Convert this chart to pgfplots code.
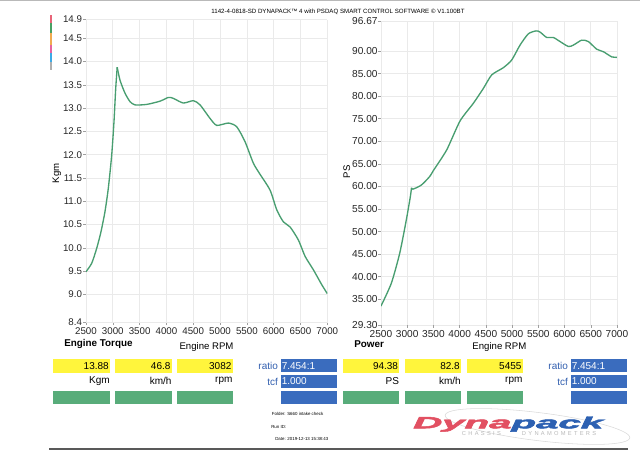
\documentclass[border=0pt]{standalone}
\usepackage{fontspec}
\setmainfont{Liberation Sans}
\usepackage{pgfplots}
\pgfplotsset{compat=1.18}
\definecolor{curve}{RGB}{72,158,112}
\definecolor{ybox}{RGB}{255,245,60}
\definecolor{gbox}{RGB}{88,172,122}
\definecolor{bbox}{RGB}{58,108,190}
\definecolor{btext}{RGB}{50,95,175}
\definecolor{logored}{RGB}{226,80,98}
\definecolor{logoblue}{RGB}{44,96,178}
\definecolor{gridc}{RGB}{234,234,234}
\pgfplotsset{dyno/.style={
  scale only axis,
  axis line style={draw=none},
  grid=major,
  major grid style={gridc, line width=0.5pt},
  tick align=outside, tick pos=left,
  major tick length=2pt,
  tick style={gray!75, line width=0.4pt},
  xmin=2500, xmax=7000,
  xtick={2500,3000,...,7000},
  /pgf/number format/assume math mode=true,
  tick label style={font=\fontsize{7.3}{8}\selectfont, text=black!85},
  label style={font=\fontsize{7.2}{8}\selectfont},
  xticklabel style={/pgf/number format/1000 sep={}, inner sep=1.8pt},
  anchor=south west,
}}
\pgfplotstableread{
rpm v
2500 9.49
2606 9.67
2699 9.99
2780 10.35
2854 10.78
2916 11.28
2979 11.99
3022 12.71
3054 13.42
3082 13.88
}\torqueA
\pgfplotstableread{
rpm v
3082 13.88
3134 13.60
3228 13.32
3321 13.14
3414 13.07
3632 13.08
3881 13.15
4036 13.23
4129 13.21
4315 13.11
4502 13.16
4627 13.07
4813 12.78
4938 12.63
5155 12.68
5311 12.60
5466 12.28
5621 11.82
5746 11.58
5933 11.24
6057 10.82
6181 10.56
6306 10.45
6461 10.17
6586 9.82
6741 9.53
6897 9.21
7000 9.02
}\torqueB
\pgfplotstableread{
rpm v
2500 33.5
2697 38.55
2857 45.2
2983 52.6
3059 57.7
3082 59.7
}\powerA
\pgfplotstableread{
rpm v
3082 59.7
3110 59.4
3269 60.3
3429 62.2
3498 63.5
3753 68.1
4007 74.5
4260 78.4
4451 81.7
4611 84.7
4832 86.3
4992 88.0
5151 91.3
5309 93.8
5455 94.45
5532 94.2
5660 93.0
5786 93.0
5913 92.1
6072 91.0
6167 91.3
6327 92.4
6453 92.1
6613 90.4
6740 89.85
6899 88.7
7000 88.6
}\powerB
\begin{document}
\begin{tikzpicture}
\begin{scope}[x=0.75pt,y=-0.75pt]
\useasboundingbox (0,0) rectangle (640,453);
\fill[white] (0,0) rectangle (640,453);
\fill[gray!55] (0,0) rectangle (640,1.5);
% header
\node[font=\fontsize{4.6}{5}\selectfont] at (338,11.5) {1142-4-0818-SD DYNAPACK™ 4 with PSDAQ SMART CONTROL SOFTWARE © V1.100BT};
% colour strip
\fill[fill={rgb,255:red,232;green,100;blue,120}] (49.5,15) rectangle (51.5,22.7);
\fill[fill={rgb,255:red,72;green,160;blue,100}] (49.5,22.7) rectangle (51.5,33.3);
\fill[fill={rgb,255:red,240;green,170;blue,80}] (49.5,33.3) rectangle (51.5,45);
\fill[fill={rgb,255:red,230;green,100;blue,160}] (49.5,45) rectangle (51.5,52.7);
\fill[fill={rgb,255:red,60;green,170;blue,230}] (49.5,52.7) rectangle (51.5,61.7);
\fill[fill={rgb,255:red,175;green,175;blue,175}] (49.5,61.7) rectangle (51.5,70);
% panel titles
\node[anchor=west, inner sep=0, font=\fontsize{7.4}{8}\selectfont\bfseries] at (64,344.3) {Engine Torque};
\node[anchor=west, inner sep=0, font=\fontsize{7.4}{8}\selectfont\bfseries] at (354,344) {Power};
% boxes
\foreach \a/\b in {53.3/110,115/171.7,176.7/232.7,343.3/399.3,405/461,466.7/522.7}{
  \fill[ybox] (\a,359.3) rectangle (\b,372.7);
  \fill[gbox] (\a,390.7) rectangle (\b,404);
}
\foreach \a/\b in {280.7/336.7,570.7/626.7}{
  \fill[bbox] (\a,359) rectangle (\b,372.3);
  \fill[bbox] (\a,375) rectangle (\b,388);
  \fill[bbox] (\a,390.7) rectangle (\b,404);
  \node[anchor=east, inner sep=0, text=btext, font=\fontsize{7.5}{8}\selectfont] at (\a-2.5,366) {ratio};
  \node[anchor=east, inner sep=0, text=btext, font=\fontsize{7.5}{8}\selectfont] at (\a-2.5,381.5) {tcf};
  \node[anchor=west, inner sep=0, text=white, font=\fontsize{7.5}{8}\selectfont] at (\a+0.8,366) {7.454:1};
  \node[anchor=west, inner sep=0, text=white, font=\fontsize{7.5}{8}\selectfont] at (\a+0.8,381.5) {1.000};
}
\begin{scope}[every node/.style={anchor=east, inner sep=0, font=\fontsize{7.5}{8}\selectfont}]
\node at (109,366) {13.88};
\node at (170.7,366) {46.8};
\node at (231.7,366) {3082};
\node at (398.3,366) {94.38};
\node at (460,366) {82.8};
\node at (521.7,366) {5455};
\node at (110,381) {Kgm};
\node at (171.7,381) {km/h};
\node at (232.7,381) {rpm};
\node at (399.3,381) {PS};
\node at (461,381) {km/h};
\node at (522.7,381) {rpm};
\end{scope}
% footer
\begin{scope}[every node/.style={anchor=west, inner sep=0, font=\fontsize{3.3}{4}\selectfont}]
\node at (271.7,414.3) {Folder: S660 intake check};
\node at (271,426.7) {Run ID:};
\node at (275,439.3) {Date: 2019-12-13 15:38:43};
\end{scope}
\draw[gray!70!black, line width=0.9pt] (49,449) -- (628,449);
% logo
\begin{scope}[shift={(537.5,426.5)}, rotate=-7]
\draw[gray!30, line width=0.4pt] (0,0) ellipse [x radius=93, y radius=14];
\end{scope}
\node[anchor=base west, inner sep=0, font=\fontsize{12.2}{13}\selectfont\bfseries\itshape\addfontfeature{FakeBold=2.5}] at (413,428.3)
  {\scalebox{2.47}[1]{\textcolor{logored}{Dyna}\textcolor{logoblue}{pack}}};
\node[anchor=west, inner sep=0, text=gray!55, font=\fontsize{4.3}{5}\selectfont\addfontfeature{LetterSpace=40}] at (461.7,434) {CHASSIS};
\node[anchor=west, inner sep=0, text=gray!55, font=\fontsize{4.3}{5}\selectfont\addfontfeature{LetterSpace=40}] at (521.7,434) {DYNAMOMETERS};
\end{scope}
% torque axis
\begin{axis}[dyno,
  at={(64.5pt,-241.875pt)},
  width=180.975pt, height=227.175pt,
  ymin=8.4, ymax=14.9,
  ytick={8.4,9.0,9.5,10.0,10.5,11.0,11.5,12.0,12.5,13.0,13.5,14.0,14.5,14.9},
  yticklabel style={inner sep=0.8pt, /pgf/number format/.cd, fixed, fixed zerofill, precision=1},
  ylabel={Kgm},
  ylabel style={at={(axis description cs:-0.121,0.4926)}, anchor=center},
  xlabel={Engine RPM},
  xlabel style={at={(axis description cs:0.4994,-0.0799)}, anchor=center},
]
\addplot[curve, line width=1pt, smooth, tension=0.4] table[x=rpm,y=v] {\torqueA};
\addplot[curve, line width=1pt, smooth, tension=0.4] table[x=rpm,y=v] {\torqueB};
\end{axis}
% power axis
\begin{axis}[dyno,
  at={(285.75pt,-243.75pt)},
  width=177pt, height=228.075pt,
  ymin=29.3, ymax=96.67,
  ytick={29.3,35,40,45,50,55,60,65,70,75,80,85,90,96.67},
  tick label style={font=\fontsize{7.6}{8}\selectfont},
  yticklabel style={inner sep=0.4pt, /pgf/number format/.cd, fixed, fixed zerofill, precision=2},
  ylabel={PS},
  ylabel style={at={(axis description cs:-0.145,0.504)}, anchor=center},
  xlabel={Engine RPM},
  xlabel style={at={(axis description cs:0.5017,-0.0714)}, anchor=center},
]
\addplot[curve, line width=1pt, smooth, tension=0.4] table[x=rpm,y=v] {\powerA};
\addplot[curve, line width=1pt, smooth, tension=0.4] table[x=rpm,y=v] {\powerB};
\end{axis}
\end{tikzpicture}
\end{document}
